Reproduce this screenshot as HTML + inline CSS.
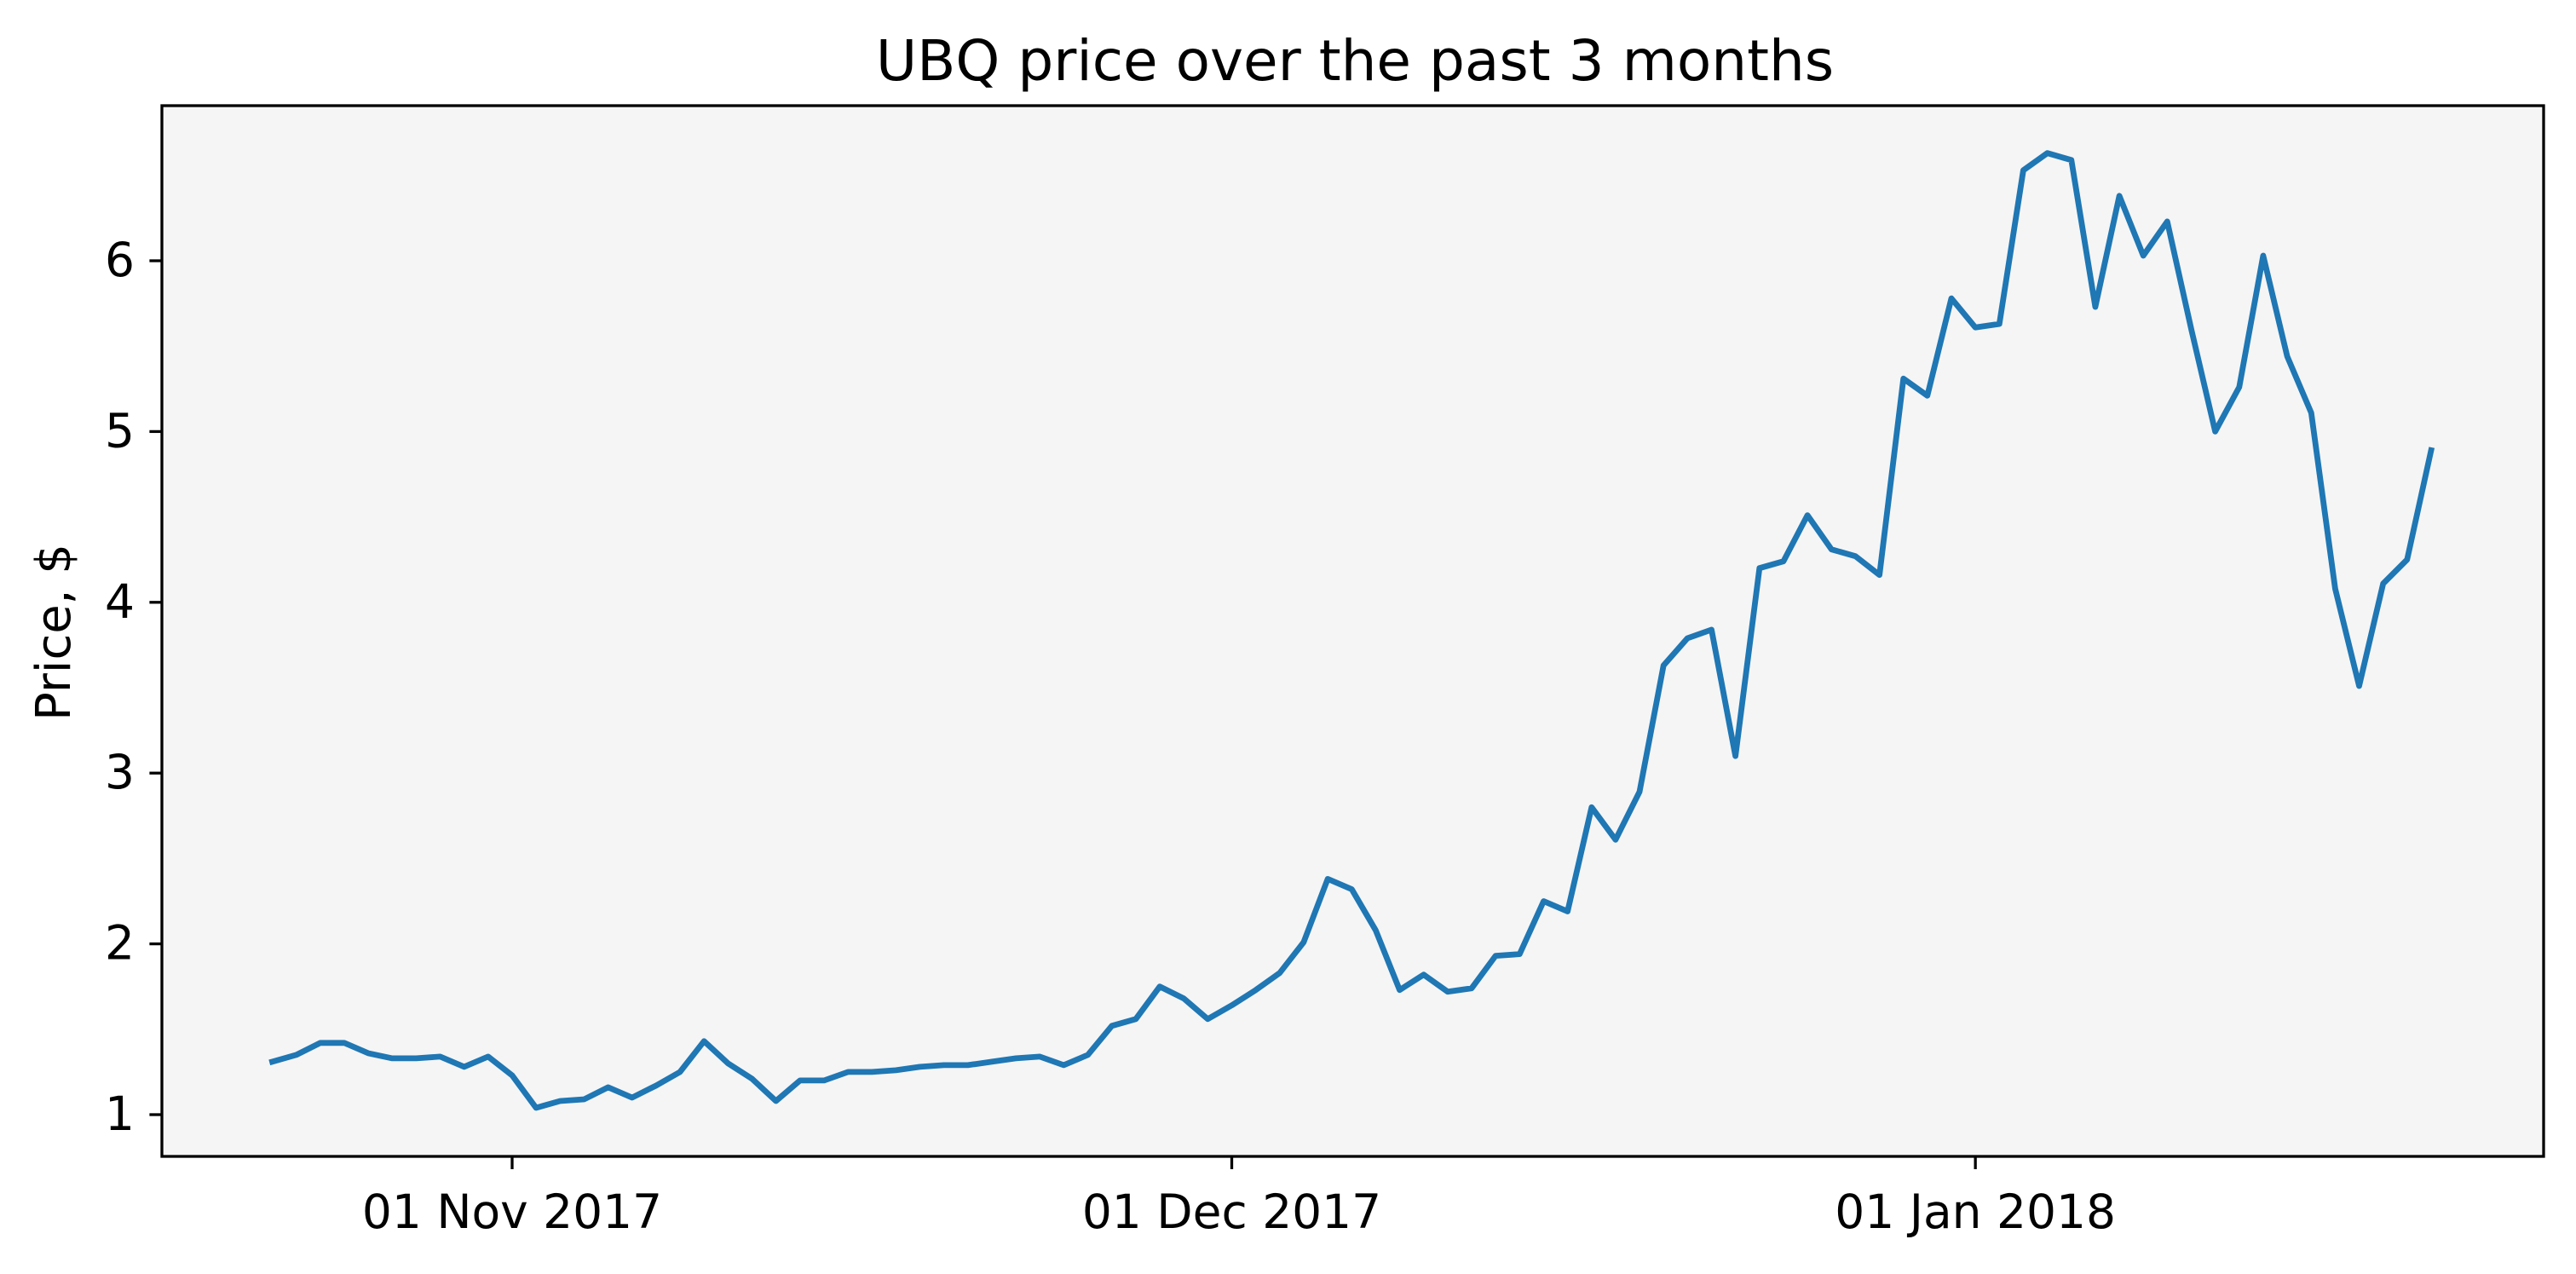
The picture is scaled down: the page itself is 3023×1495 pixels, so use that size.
<!DOCTYPE html>
<html><head><meta charset="utf-8"><style>
html,body{margin:0;padding:0;background:#fff;}
svg text{font-family:"DejaVu Sans","Liberation Sans",sans-serif;fill:#000;}
</style></head><body>
<svg id="chart" width="3023" height="1490" xmlns="http://www.w3.org/2000/svg">
<rect x="190" y="124" width="2795" height="1233" fill="#f5f5f5"/>
<text x="1590" y="94" font-size="66" text-anchor="middle">UBQ price over the past 3 months</text>
<text x="0" y="0" font-size="56" text-anchor="middle" transform="translate(82,742) rotate(-90)">Price, $</text>
<g id="yticks"></g><g id="xticks"></g>
<path id="series" fill="none" stroke="#1f77b4" stroke-width="6.8" stroke-linejoin="round" stroke-linecap="square"/>
<rect x="190" y="124" width="2795" height="1233" fill="none" stroke="#000" stroke-width="3.3"/>
</svg>
<script>
const prices = [1.31,1.35,1.42,1.42,1.36,1.33,1.33,1.34,1.28,1.34,1.23,1.04,1.08,1.09,1.16,1.10,1.17,1.25,1.43,1.30,1.21,1.08,1.20,1.20,1.25,1.25,1.26,1.28,1.29,1.29,1.31,1.33,1.34,1.29,1.35,1.52,1.56,1.75,1.68,1.56,1.64,1.73,1.83,2.01,2.38,2.32,2.08,1.73,1.82,1.72,1.74,1.93,1.94,2.25,2.19,2.80,2.61,2.89,3.63,3.79,3.84,3.10,4.20,4.24,4.51,4.31,4.27,4.16,5.31,5.21,5.78,5.61,5.63,6.53,6.63,6.59,5.73,6.38,6.03,6.23,5.60,5.00,5.26,6.03,5.44,5.11,4.08,3.51,4.11,4.25,4.89];
const startDayOffset = -10; // Oct 22 relative to Nov 1
const yTickValues = [1,2,3,4,5,6];
const xTickDays = [0,30,61];
const xTickLabels = ["01 Nov 2017","01 Dec 2017","01 Jan 2018"];

function xScale(d){ return 601 + d*28.15; }
function yScale(v){ return 1308 - (v-1)*200.4; }

const NS="http://www.w3.org/2000/svg";
const yg=document.getElementById('yticks');
yTickValues.forEach(v=>{
  const y=yScale(v);
  const l=document.createElementNS(NS,'line');
  
  
  l.setAttribute('x1',175.4);l.setAttribute('x2',190);l.setAttribute('y1',y);l.setAttribute('y2',y);
  l.setAttribute('stroke','#000');l.setAttribute('stroke-width','3.3');
  yg.appendChild(l);
  const t=document.createElementNS(NS,'text');
  
  
  t.setAttribute('x',158);t.setAttribute('y',y+18);t.setAttribute('font-size','55');t.setAttribute('text-anchor','end');
  t.textContent=String(v);
  yg.appendChild(t);
});
const xg=document.getElementById('xticks');
xTickDays.forEach((d,i)=>{
  const x=xScale(d);
  const l=document.createElementNS(NS,'line');
  
  
  l.setAttribute('x1',x);l.setAttribute('x2',x);l.setAttribute('y1',1357);l.setAttribute('y2',1372);
  l.setAttribute('stroke','#000');l.setAttribute('stroke-width','3.3');
  xg.appendChild(l);
  const t=document.createElementNS(NS,'text');
  
  
  t.setAttribute('x',x);t.setAttribute('y',1441);t.setAttribute('font-size','55');t.setAttribute('text-anchor','middle');
  t.textContent=xTickLabels[i];
  xg.appendChild(t);
});
document.getElementById('series').setAttribute('d',
  prices.map((v,i)=>(i?'L':'M')+xScale(startDayOffset+i).toFixed(1)+','+yScale(v).toFixed(1)).join(' '));
</script>
</body></html>
